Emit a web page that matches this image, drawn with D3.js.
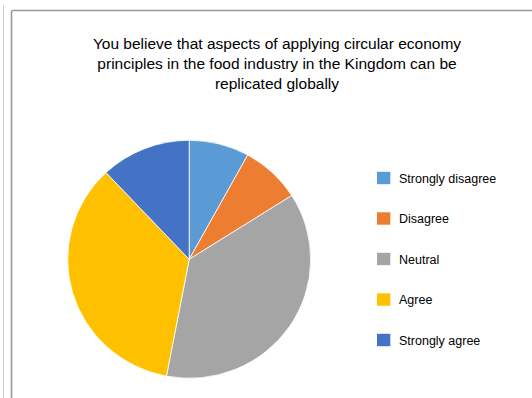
<!DOCTYPE html>
<html>
<head>
<meta charset="utf-8">
<script src="https://cdn.jsdelivr.net/npm/d3@7"></script>
<style>
  html, body { margin: 0; padding: 0; background: #fff; }
  svg { display: block; }
  text { font-family: "Liberation Sans", Arial, sans-serif; fill: #000; }
</style>
</head>
<body>
<svg id="chart" width="532" height="398"></svg>
<script>
// Survey answers (share of respondents, %)
const categories = ["Strongly disagree", "Disagree", "Neutral", "Agree", "Strongly agree"];
const values = [8, 8, 37, 35, 12];
const colors = ["#5B9BD5", "#ED7D31", "#A5A5A5", "#FFC000", "#4472C4"];
const titleLines = [
  "You believe that aspects of applying circular economy",
  "principles in the food industry in the Kingdom can be",
  "replicated globally"
];

const svg = d3.select("#chart");

// outer page line and chart frame
svg.append("line")
  .attr("x1", 3.5).attr("x2", 3.5).attr("y1", 5).attr("y2", 398)
  .attr("stroke", "#cfcfcf").attr("stroke-width", 1);
svg.append("path")
  .attr("d", "M11.5,398 L11.5,12 Q11.5,10.5 13,10.5 L532,10.5")
  .attr("fill", "none").attr("stroke", "#9a9a9a").attr("stroke-width", 1.6);

// title
const title = svg.append("text")
  .attr("text-anchor", "middle")
  .style("font-size", "15.5px");
titleLines.forEach((t, i) => {
  title.append("tspan").attr("x", 277).attr("y", 49 + i * 20).text(t);
});

// pie
const data = categories.map((c, i) => ({ name: c, value: values[i], color: colors[i] }));
const pie = d3.pie().value(d => d.value).sort(null);
const r = 119;
const arc = d3.arc().innerRadius(0).outerRadius(r);

const g = svg.append("g")
  .attr("transform", "translate(189.2,259.3) scale(1.021,1)");
g.selectAll("path")
  .data(pie(data))
  .join("path")
  .attr("d", arc)
  .attr("fill", d => d.data.color)
  .attr("stroke", "#ffffff")
  .attr("stroke-width", 0.8)
  .attr("vector-effect", "non-scaling-stroke");

// legend
const legendY = d3.scalePoint().domain(categories).range([178, 340]);
const legend = svg.append("g");
const rows = legend.selectAll("g")
  .data(data)
  .join("g")
  .attr("transform", d => `translate(377,${legendY(d.name)})`);
rows.append("rect")
  .attr("x", 0).attr("y", -6.2)
  .attr("width", 13.3).attr("height", 12.4)
  .attr("fill", d => d.color);
rows.append("text")
  .attr("x", 22).attr("y", 4.6)
  .style("font-size", "12.5px")
  .text(d => d.name);
</script>
</body>
</html>
